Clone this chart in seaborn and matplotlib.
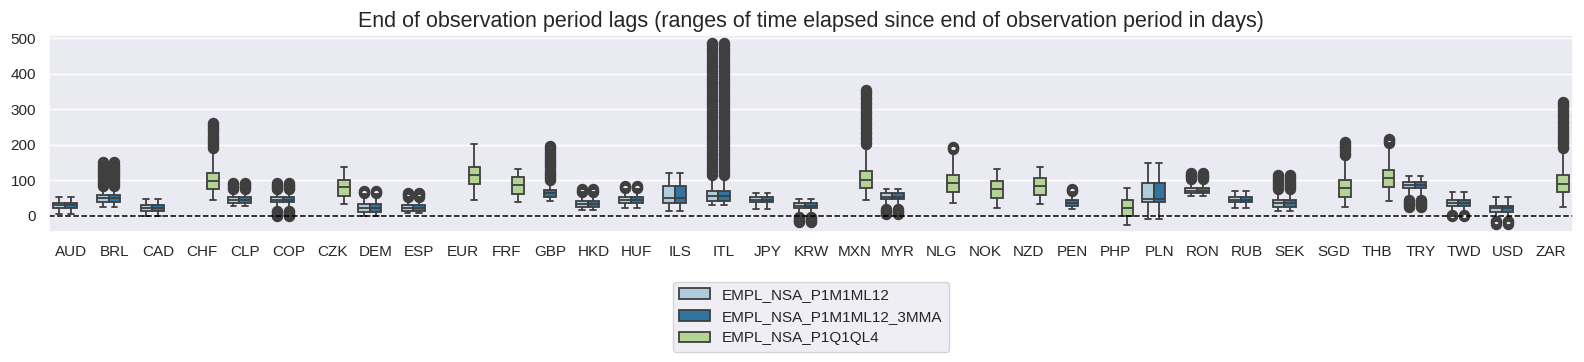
import numpy as np
import matplotlib
matplotlib.use("Agg")
import matplotlib.pyplot as plt
import pandas as pd
import seaborn as sns

# currencies on the x axis, and which series each one has (L, D, G)
currencies = ["AUD", "BRL", "CAD", "CHF", "CLP", "COP", "CZK", "DEM", "ESP", "EUR",
              "FRF", "GBP", "HKD", "HUF", "ILS", "ITL", "JPY", "KRW", "MXN", "MYR",
              "NLG", "NOK", "NZD", "PEN", "PHP", "PLN", "RON", "RUB", "SEK", "SGD",
              "THB", "TRY", "TWD", "USD", "ZAR"]
present = ["LD", "LD", "LD", "G", "LD", "LD", "G", "LD", "LD", "G",
           "G", "D", "LD", "LD", "LD", "LD", "LD", "LD", "G", "LD",
           "G", "G", "G", "D", "G", "LD", "LD", "LD", "LD", "G",
           "G", "LD", "LD", "LD", "G"]
series_names = {"L": "EMPL_NSA_P1M1ML12",
                "D": "EMPL_NSA_P1M1ML12_3MMA",
                "G": "EMPL_NSA_P1Q1QL4"}

# box summaries (days)
box_lo = [6, 25, 0, 44, 27, 18, 32, 0, 7, 43,
          38, 41, 16, 23, 13, 30, 19, 2, 44, 22,
          35, 23, 32, 20, -26, -8, 56, 21, 13, 24,
          41, 52, 6, -12, 25]
box_q1 = [23, 40, 14, 74, 37, 38, 56, 11, 14, 90,
          62, 54, 25, 36, 35, 42, 38, 21, 77, 46,
          68, 51, 57, 28, -1, 38, 63, 38, 25, 54,
          82, 77, 28, 11, 66]
box_med = [30, 49, 22, 97, 44, 45, 80, 22, 22, 114,
           86, 63, 33, 45, 50, 55, 45, 28, 100, 54,
           92, 75, 83, 37, 22, 48, 71, 45, 35, 77,
           106, 86, 37, 21, 88]
box_q3 = [37, 57, 29, 119, 52, 52, 102, 32, 29, 136,
          110, 72, 42, 52, 85, 70, 52, 35, 126, 63,
          116, 98, 105, 44, 44, 91, 79, 53, 44, 101,
          130, 96, 44, 28, 115]
box_hi = [54, 80, 47, 185, 72, 70, 138, 62, 50, 202,
          133, 95, 66, 74, 120, 110, 64, 47, 198, 75,
          182, 131, 136, 66, 77, 148, 101, 71, 72, 168,
          200, 112, 68, 53, 185]
outliers = [
    [],
    [84, 90, 96, 102, 108, 114, 120, 126, 132, 138, 144, 150],
    [],
    [190, 196, 202, 208, 214, 220, 226, 232, 238, 244, 250, 256, 261],
    [76, 80, 84, 88, 92],
    [-2, 2, 6, 10, 14, 75, 79, 83, 87, 91],
    [],
    [65, 68, 71],
    [53, 57, 61, 65],
    [],
    [],
    [100, 106, 112, 118, 124, 130, 136, 142, 148, 154, 160, 166, 172, 178, 184, 190, 196],
    [68, 71, 74],
    [78, 81, 84],
    [],
    [114, 122, 130, 138, 146, 154, 162, 170, 178, 186, 194, 202, 210, 218, 226, 234,
     242, 250, 258, 266, 274, 282, 290, 298, 306, 314, 322, 330, 338, 346, 354, 362,
     370, 378, 386, 394, 402, 410, 418, 426, 434, 442, 450, 458, 466, 474, 482, 488],
    [],
    [-3, -7, -11, -15, -18],
    [202, 209, 216, 223, 230, 237, 244, 251, 258, 265, 272, 279, 286, 293, 300, 307,
     314, 321, 328, 335, 342, 349, 355],
    [6, 10, 14, 18],
    [189, 192, 195],
    [],
    [],
    [70, 73, 76],
    [],
    [],
    [104, 108, 112, 116, 119],
    [],
    [74, 80, 86, 92, 98, 104, 110, 116],
    [172, 178, 184, 190, 196, 202, 208],
    [204, 208, 212, 215],
    [25, 29, 33, 37, 41, 45],
    [0, 2],
    [-16, -19, -22],
    [190, 197, 204, 211, 218, 225, 232, 239, 246, 253, 260, 267, 274, 281, 288, 295,
     302, 309, 316, 321],
]

# rebuild samples whose quartiles / whiskers match the summaries
N = 100
rows = []
for i, cid in enumerate(currencies):
    vals = ([box_lo[i]] + [box_q1[i]] * N + [box_med[i]] * N + [box_q3[i]] * N
            + [box_hi[i]] + outliers[i])
    for code in present[i]:
        rows.append(pd.DataFrame({"cid": cid, "xcat": series_names[code], "lag": vals}))
df = pd.concat(rows, ignore_index=True)

sns.set_theme(style="darkgrid")
plt.rcParams["font.family"] = ["Liberation Sans", "DejaVu Sans"]

fig, ax = plt.subplots(figsize=(15.84, 3.62), dpi=100)
fig.subplots_adjust(left=0.031, right=0.993, top=0.903, bottom=0.359)

sns.boxplot(data=df, x="cid", y="lag", hue="xcat", order=currencies,
            hue_order=list(series_names.values()), palette="Paired",
            linewidth=1.3, fliersize=6,
            flierprops={"markeredgewidth": 2.2}, ax=ax)
ax.axhline(0, color="black", linestyle="--", linewidth=1.1)
ax.set_ylim(-46, 509)
ax.set_xlabel("")
ax.set_ylabel("")
ax.set_title("End of observation period lags (ranges of time elapsed since end of observation period in days)",
             fontsize=15.5)
sns.move_legend(ax, "upper center", bbox_to_anchor=(0.5, -0.215), title=None, frameon=True)

fig.savefig("out.png", dpi=100)
